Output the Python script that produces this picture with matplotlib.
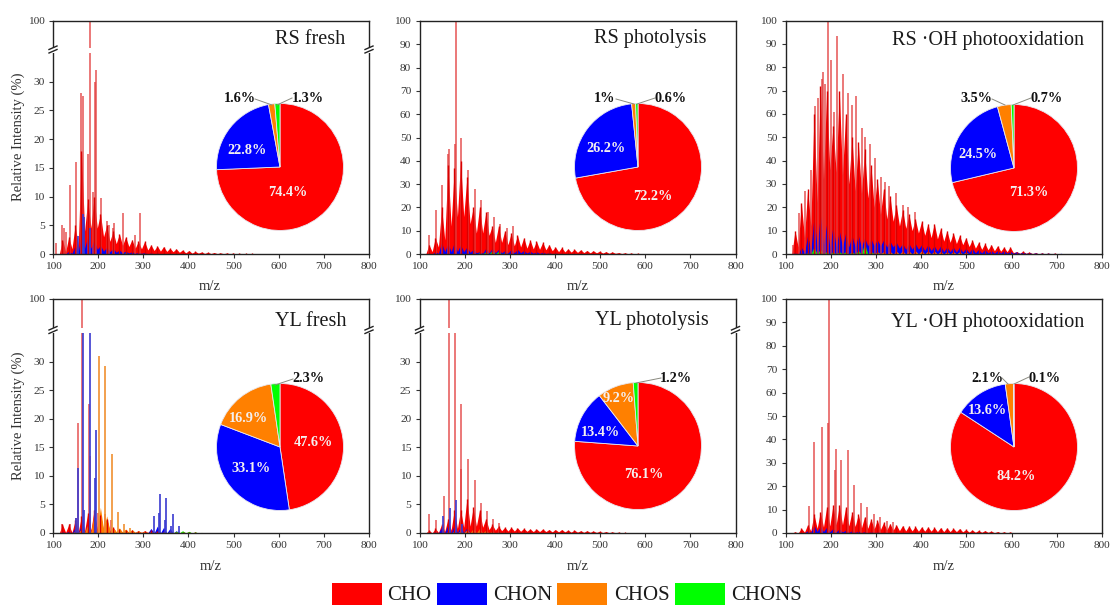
"""Mass spectra with class pies, six panels."""
import matplotlib
matplotlib.use("Agg")
import matplotlib.pyplot as plt
from matplotlib.patches import Rectangle

plt.rcParams["font.family"] = ["Liberation Serif", "DejaVu Serif"]

W, H = 1110, 605
RED, BLUE, ORANGE, GREEN = "#ff0000", "#0000ff", "#ff8000", "#00ff00"
TXT = "#333333"

CLASSES = ["CHO", "CHON", "CHOS", "CHONS"]

# centres of the CH2 series
PEAK_MZ = [121, 135, 149, 163, 177, 191, 205, 219, 233, 247, 261, 275, 289, 303, 317, 331, 345,
           359, 373, 387, 401, 415, 429, 443, 457, 471, 485, 499, 513, 527, 541, 555, 569, 583,
           597, 611, 625, 639, 653, 667, 681, 695, 709, 723, 737, 751, 765, 779, 793]

# ─── RS fresh ───
rf_cho_peak = [2.5, 3, 5, 18, 9.5, 10, 7, 5, 4, 3.5, 3, 2.5, 2.2, 2.2, 1.6, 1.4, 1.3, 1, .9, .7, .6, .45,
               .35, .3, .25, .2, .18, .15, .12, .1, .1, .08, .06, .05]
rf_cho_valley = [.4, .9, 1.5, 4, 4.5, 4.5, 3, 2.2, 1.8, 1.5, 1.3, 1, .9, .7, .6, .5, .45, .4, .3, .2, .15, .15,
                 .1, .08, .07, .05, .05, .04, .04, .03, .03, .02, .02, .01]
rf_chon_peak = [.2, .5, 1.5, 3.5, 3, 2.5, 1.5, 1.2, 1, .7, .5, .4, .3, .25, .2, .15, .1, .1, .08, .05]
rf_chon_valley = [0, .1, .4, 1, 1, .8, .5, .4, .3, .2, .15, .1, .1]
rf_chos_peak = [0, 0, 0, .1, .1, .2, .1, .1, .1, .1, .1, .1, .05, .05]
rf_chons_peak = [0, 0, 0, .1, .1, .1, .1, .1, .1, .1, .2, .1]
rf_cho_spike_mz = [107, 121, 125, 129, 137, 150, 163, 167, 177, 181, 188, 193, 196, 207, 220, 225, 232, 236, 255, 282, 292]
rf_cho_spike = [2, 5, 4.5, 3.8, 12, 16, 28, 27.5, 17.5, 100, 10.8, 30, 32, 9.8, 5.8, 5, 4.6, 5.4, 7.2, 3.3, 7.2]
rf_chon_spike_mz = [155, 167, 169, 181]
rf_chon_spike = [3.2, 7, 6.5, 4.5]
rf_shares = [74.4, 22.8, 1.6, 1.3]

# ─── RS photolysis ───
rp_cho_peak = [4, 7, 20, 38, 37, 40, 33, 20, 20, 18, 12, 12, 10, 9, 8, 7, 6, 5.5, 5, 4, 3, 2.8, 2.2, 2,
               1.8, 1.5, 1.4, 1.2, 1, .9, .6, .5, .4, .3, .2, .1]
rp_cho_valley = [1, 3, 6, 12, 16, 16, 13, 9, 9, 8, 5, 5, 4, 3.5, 3, 2.5, 2.2, 2, 1.8, 1.4, 1, .9, .8, .7,
                 .6, .5, .5, .4, .3, .3, .2, .15, .1, .08, .05, .02]
rp_chon_peak = [.3, 1, 5, 4.5, 5, 4, 3, 2, 1, 2.5, 2.5, 2, 1.5, 2, 2, 1.5, 1.2, 1, .8, .5, .4, .3, .2, .2, .1]
rp_chon_valley = [0, .2, 1, 1, 1, 1, .7, .5, .3, .5, .5, .5, .4, .5, .5, .4, .3, .2, .2, .1, .1]
rp_chos_peak = [0, 0, .1, .2, .2, .2, .2, .2, .3, .3, .3, .2, .2, .1, .1]
rp_chons_peak = [0, 0, 0, .2, .2, .2, .2, .2, .5, 1, 1.5, 1.2, .5, .2]
rp_cho_spike_mz = [121, 136, 150, 163, 165, 179, 181, 193, 207, 223, 236, 251, 264, 279, 293, 308]
rp_cho_spike = [8, 19, 29.5, 43, 45, 47, 100, 50, 36, 28, 23, 18, 16, 13, 11, 12]
rp_shares = [72.2, 26.2, 1.0, 0.6]

# ─── RS OH ───
ro_cho_peak = [10, 22, 28, 60, 72, 70, 55, 70, 60, 50, 48, 45, 38, 32, 28, 25, 21, 19, 17, 15, 14, 13,
               13, 11, 10, 9, 8, 7, 6, 5, 4.5, 4, 3.5, 3, 3, 1, 1.2, .8, .5, .4, .3, .3, .2, .2, .2, .1]
ro_cho_valley = [3, 7, 12, 22, 32, 36, 35, 34, 30, 27, 26, 24, 20, 17, 15, 14, 12, 11, 10, 9, 8, 7, 6.5,
                 5.5, 5, 4.5, 4, 3.2, 2.5, 2, 1.8, 1.4, 1.2, 1, .6, .3, .3, .2, .1, .1, .1, .05, .05, .05, .05, .05]
ro_chon_peak = [.5, 3, 8, 16, 17, 13, 12, 10, 9, 8, 8, 7, 6.5, 6, 6, 5.5, 5, 4.5, 4.5, 4.5, 4, 4, 3.5,
                3.5, 3, 3, 3, 2.5, 2.5, 2, 2, 1.5, 1.5, 1.5, 1.2, 1, .8, .6, .5, .4, .4, .3, .3, .2, .2, .2, .1, .1]
ro_chon_valley = [0, .5, 1.5, 3, 4, 3, 3, 3, 3, 3, 3, 3.5, 3.5, 3.5, 3, 3, 2.5, 2, 2, 2, 1.5, 1.5, 1.2,
                  1, 1, .8, .8, .6, .5, .4, .4, .3, .3, .3, .2, .2, .2, .1, .1, .1, .1, .05, .05]
ro_chos_peak = [0, 0, .1, .3, .5, .6, .6, .6, .7, .8, .9, 1, 1, 1, 1, 1.1, 1.2, 1.3, 1.3, 1.4, 1.4, 1.3, 1.2,
                1.1, 1, 1, .9, .8, .4, .2, .1]
ro_chons_peak = [0, 0, .5, 3, 2, 1, 1, 1, 1, .8, 1.5, 4.5, 1, .5, .4, .3, .2, .1]
ro_cho_spike_mz = [117, 130, 143, 156, 166, 172, 181, 184, 188, 195, 201, 208, 215, 228, 238, 247, 256, 269, 275, 286, 299, 311, 321, 328, 345, 359, 372, 386]
ro_cho_spike = [4, 17.5, 27, 36, 63.5, 67, 75, 78, 73, 100, 83, 61, 93.5, 77, 69, 64, 67.5, 54, 50, 47, 41, 33, 31, 29, 26, 21, 20, 18]
ro_shares = [71.3, 24.5, 3.5, 0.7]

# ─── YL fresh ───
yf_cho_peak = [1.5, 1.5, 2.2, 3, 3.5, 4, 3.2, 2.5, 1, .7, .6, .5, .4, .4, .5, .3, .3, .3, .2, .2, .15, .1, .08, .06, .05, .04, .03]
yf_cho_valley = [.1, .1, .2, .4, .5, .6, .5, .3, .2, .1, .1, .1, .1, .1, .1, .05, .05, .05, .03, .03, .02, .02]
yf_chon_peak = [.2, .3, 1, 1.5, 1.5, 2, 1, .5, .3, .2, .1, .1, .1, .1, .8, 1.2, 1, .8, .4, .2, .1, .05]
yf_chos_peak = [0, .1, .3, .8, 1.5, 3.5, 4.5, 3, 1, .9, .7, .6, .4, .3, .2, .2, .15, .15, .2, .3, .2, .15, .1, .08, .05]
yf_chos_valley = [0, 0, 0, .1, .2, .5, .6, .4, .2, .15, .1, .1, .08, .05, .05, .05, .03, .03, .03, .05]
yf_chons_peak = [0, 0, 0, .1, .1, .1, .1, .1, .1, .1, .1, .1, .1, .1, .1, .1, .1, .2, .3, .4, .3, .2, .1]
yf_cho_spike_mz = [121, 137, 150, 155, 165, 179, 181, 193, 200, 215, 229]
yf_cho_spike = [1.5, 1.5, 2.7, 19.3, 100, 22.6, 13.5, 4, 3.5, 3.3, 2.3]
yf_chon_spike_mz = [150, 155, 167, 169, 182, 193, 196, 323, 334, 337, 348, 351, 362, 366, 379]
yf_chon_spike = [2.7, 11.3, 35, 4, 35, 9.6, 18, 2.9, 3.5, 6.9, 2.2, 6.2, 1.2, 3.4, 1.3]
yf_chos_spike_mz = [203, 216, 231, 244, 258, 271]
yf_chos_spike = [31, 29.3, 13.8, 3.6, 1.6, .8]
yf_shares = [47.6, 33.1, 16.9, 2.3]

# ─── YL photolysis ───
yp_cho_peak = [.5, .8, 1.5, 2.5, 4, 4, 6, 4.5, 4, 2.5, 1.5, 1.2, 1, 1, .9, .8, .7, .7, .7, .6, .6, .6, .5, .5,
               .4, .4, .35, .3, .25, .2, .15, .1, .08, .05, .04, .03]
yp_cho_valley = [0, .1, .3, .5, .8, 1, 1.2, 1.2, 1, .6, .5, .4, .35, .35, .3, .3, .25, .25, .25, .2, .2, .2, .15, .15,
                 .12, .12, .1, .08, .06, .05, .03, .02]
yp_chon_peak = [0, .2, 1, 1.5, 1.5, 1.2, 1, .5, .4, .3, .2, .15, .1, .1]
yp_chos_peak = [0, 0, .1, .2, .3, .4, .6, .8, .8, .5, .3, .2, .15, .1, .1, .05]
yp_chons_peak = [0, 0, 0, .05, .1, .1, .1, .1, .1, .1]
yp_cho_spike_mz = [121, 136, 155, 165, 179, 192, 193, 207, 222, 237, 249, 262, 277]
yp_cho_spike = [3.4, 2.3, 6.4, 100, 35, 11.2, 22.6, 13, 9.2, 5.3, 3.9, 2.5, 1.8]
yp_chon_spike_mz = [151, 167, 181, 195]
yp_chon_spike = [3, 4.4, 5.8, 1.5]
yp_shares = [76.1, 13.4, 9.2, 1.2]

# ─── YL OH ───
yo_cho_peak = [.5, 2, 3.5, 8, 9, 11, 12, 12, 11, 9, 8, 7, 6, 5.5, 4.5, 4, 3.5, 3.2, 3, 2.8, 2.6, 2.6, 2.4,
               2.3, 2.2, 2, 1.9, 1.5, 1.3, 1.1, 1, .8, .6, .5, .4, .2, .15, .1, .05]
yo_cho_valley = [0, .4, .9, 2, 2.5, 3, 3.5, 3.5, 3, 2.8, 2.2, 2, 1.7, 1.5, 1.3, 1.2, 1, .9, .9, .8, .8, .8, .6,
                 .6, .6, .6, .5, .4, .3, .3, .3, .15, .1, .1, .1, .05, .02, .02]
yo_chon_peak = [0, .2, 1, 3.5, 3, 2.5, 2, 1.8, 1.2, 1, .8, .6, .5, .4, .3, .3, .2, .2, .2, .15, .1, .1, .1, .1, .1, .05]
yo_chon_valley = [0, 0, .2, .6, .6, .5, .4, .4, .2, .2, .1, .1, .1, .1]
yo_chos_peak = [0, 0, 0, .1, .1, .2, .2, .2, .1, .1, .1, .1, .1]
yo_chons_peak = [0, 0, 0, .02, .02, .02, .02]
yo_cho_spike_mz = [153, 164, 180, 195, 196, 209, 211, 223, 238, 252, 266, 280, 295, 309, 324, 338]
yo_cho_spike = [11.5, 39, 45.5, 47, 100, 27, 35.7, 31, 35.5, 20.5, 13, 11, 8, 7, 5.3, 4.5]
yo_shares = [84.2, 13.6, 2.1, 0.1]

X_TICKS = [100, 200, 300, 400, 500, 600, 700, 800]
Y_TICKS_FULL = [0, 10, 20, 30, 40, 50, 60, 70, 80, 90, 100]
Y_TICKS_LOW = [0, 5, 10, 15, 20, 25, 30]

fig = plt.figure(figsize=(W / 100, H / 100), dpi=100, facecolor="white")


def px_axes(x0, x1, ytop, ybot, zorder=1):
    return fig.add_axes([x0 / W, 1 - ybot / H, (x1 - x0) / W, (ybot - ytop) / H], zorder=zorder)


def draw_comb(ax, peaks, valleys, color):
    xs, ys = [PEAK_MZ[0] - 7], [0]
    for i, p in enumerate(peaks):
        v = valleys[i] if i < len(valleys) else 0
        xs += [PEAK_MZ[i], PEAK_MZ[i] + 7]
        ys += [p, v]
    ax.fill_between(xs, ys, 0, color=color, lw=0)


def draw_spectrum(ax, d):
    # red underneath, minor classes on top
    draw_comb(ax, d["cho"], d["cho_v"], RED)
    ax.vlines(d["cho_sx"], 0, d["cho_sy"], color="#e23c3c", lw=1.3, alpha=0.75)
    ax.vlines(PEAK_MZ[:len(d["cho"])], 0, d["cho"], color="#d80000", lw=1.0)
    if d.get("chos_sx"):
        ax.vlines(d["chos_sx"], 0, d["chos_sy"], color="#f09030", lw=1.2)
    if d.get("chon_sx"):
        ax.vlines(d["chon_sx"], 0, d["chon_sy"], color="#3a3ad0", lw=1.2)
    draw_comb(ax, d["chon"], d["chon_v"], BLUE)
    draw_comb(ax, d["chos"], d.get("chos_v", []), ORANGE)
    draw_comb(ax, d["chons"], [], GREEN)


def style(ax, yticks, ylim, xlabels=True):
    ax.set_xlim(100, 800)
    ax.set_ylim(*ylim)
    ax.set_yticks(yticks)
    ax.tick_params(axis="both", direction="out", length=3, width=0.8, pad=3,
                   labelsize=8.2, colors=TXT)
    for s in ax.spines.values():
        s.set_color("#222222")
        s.set_linewidth(1.0)
    ax.set_xticks(X_TICKS if xlabels else [])


def full_panel(x0, x1, ytop, ybot, d):
    ax = px_axes(x0, x1, ytop, ybot)
    draw_spectrum(ax, d)
    style(ax, Y_TICKS_FULL, (0, 100))


def broken_panel(x0, x1, ytop, ybot, gap_top, gap_bot, d):
    ax_hi = px_axes(x0, x1, ytop, gap_top)
    ax_lo = px_axes(x0, x1, gap_bot, ybot)
    draw_spectrum(ax_hi, d)
    draw_spectrum(ax_lo, d)
    style(ax_hi, [100], (92, 100), xlabels=False)
    style(ax_lo, Y_TICKS_LOW, (0, 35))
    ax_hi.spines["bottom"].set_visible(False)
    ax_lo.spines["top"].set_visible(False)


def pie(cx, cy, shares):
    r = 63.5
    ax = px_axes(cx - r, cx + r, cy - r, cy + r, zorder=3)
    ax.pie(shares, colors=[RED, BLUE, ORANGE, GREEN], startangle=90, counterclock=False, radius=1,
           wedgeprops=dict(edgecolor="#e8e8f0", linewidth=0.6))
    ax.set_xlim(-1, 1)
    ax.set_ylim(-1, 1)


rf = dict(cho=rf_cho_peak, cho_v=rf_cho_valley, chon=rf_chon_peak, chon_v=rf_chon_valley, chos=rf_chos_peak, chons=rf_chons_peak,
          cho_sx=rf_cho_spike_mz, cho_sy=rf_cho_spike, chon_sx=rf_chon_spike_mz, chon_sy=rf_chon_spike)
rp = dict(cho=rp_cho_peak, cho_v=rp_cho_valley, chon=rp_chon_peak, chon_v=rp_chon_valley, chos=rp_chos_peak, chons=rp_chons_peak,
          cho_sx=rp_cho_spike_mz, cho_sy=rp_cho_spike)
ro = dict(cho=ro_cho_peak, cho_v=ro_cho_valley, chon=ro_chon_peak, chon_v=ro_chon_valley, chos=ro_chos_peak, chons=ro_chons_peak,
          cho_sx=ro_cho_spike_mz, cho_sy=ro_cho_spike)
yf = dict(cho=yf_cho_peak, cho_v=yf_cho_valley, chon=yf_chon_peak, chon_v=[], chos=yf_chos_peak, chos_v=yf_chos_valley,
          chons=yf_chons_peak, cho_sx=yf_cho_spike_mz, cho_sy=yf_cho_spike, chon_sx=yf_chon_spike_mz, chon_sy=yf_chon_spike,
          chos_sx=yf_chos_spike_mz, chos_sy=yf_chos_spike)
yp = dict(cho=yp_cho_peak, cho_v=yp_cho_valley, chon=yp_chon_peak, chon_v=[], chos=yp_chos_peak, chons=yp_chons_peak,
          cho_sx=yp_cho_spike_mz, cho_sy=yp_cho_spike, chon_sx=yp_chon_spike_mz, chon_sy=yp_chon_spike)
yo = dict(cho=yo_cho_peak, cho_v=yo_cho_valley, chon=yo_chon_peak, chon_v=yo_chon_valley, chos=yo_chos_peak, chons=yo_chons_peak,
          cho_sx=yo_cho_spike_mz, cho_sy=yo_cho_spike)

broken_panel(53, 369, 20.5, 254, 47.5, 53, rf)
full_panel(419.5, 735.5, 21, 254, rp)
full_panel(785.5, 1102, 20.5, 254, ro)
broken_panel(53, 369, 299, 533, 328, 333, yf)
broken_panel(419.5, 735.5, 299, 533, 328, 333, yp)
full_panel(785.5, 1102, 299, 533, yo)

pie(280, 167, rf_shares)
pie(638, 167, rp_shares)
pie(1014, 168, ro_shares)
pie(280, 447, yf_shares)
pie(638, 446, yp_shares)
pie(1014, 447, yo_shares)

# overlay in pixel coordinates for labels, leaders and the legend
ov = fig.add_axes([0, 0, 1, 1], zorder=5)
ov.set_xlim(0, W)
ov.set_ylim(H, 0)
ov.axis("off")
ov.patch.set_alpha(0)

for x, y, s in [(310, 40, "RS fresh"), (650, 39, "RS photolysis"), (988, 40, "RS ·OH photooxidation"),
                (311, 322, "YL fresh"), (652, 321, "YL photolysis"), (988, 322, "YL ·OH photooxidation")]:
    ov.text(x, y, s, fontsize=14.5, ha="center", va="center", color="#1a1a1a")

for x, y in [(210, 287), (578, 287), (944, 287), (211, 566), (578, 566), (944, 566)]:
    ov.text(x, y, "m/z", fontsize=10.5, ha="center", va="center", color=TXT)
for y in (137, 416):
    ov.text(18, y, "Relative Intensity (%)", fontsize=10.5, rotation=90, ha="center", va="center", color=TXT)

# break marks on both sides of the axes
for x, y in [(53, 50), (369, 50), (53, 330.5), (369, 330.5), (419.5, 330.5), (735.5, 330.5)]:
    ov.add_patch(Rectangle((x - 3, y - 2.5), 6, 5, color="white", lw=0, zorder=1))
    ov.plot([x - 4, x + 4], [y - 0.5, y - 4], color="#222222", lw=1, zorder=2)
    ov.plot([x - 4, x + 4], [y + 3, y - 0.5], color="#222222", lw=1, zorder=2)

for x, y, s in [(247, 151, "22.8%"), (288, 193, "74.4%"), (606, 148, "26.2%"), (653, 197, "72.2%"),
                (978, 154, "24.5%"), (1029, 192, "71.3%"), (313, 442, "47.6%"), (251, 469, "33.1%"),
                (248, 418, "16.9%"), (644, 474, "76.1%"), (600, 432, "13.4%"), (619, 399, "9.2%"),
                (1016, 477, "84.2%"), (987, 411, "13.6%")]:
    ov.text(x, y, s, fontsize=10.3, fontweight="bold", ha="center", va="center", color="#f4f0f0")

for x, y, s in [(240, 99, "1.6%"), (308, 98, "1.3%"), (605, 98, "1%"), (671, 98, "0.6%"),
                (976, 99, "3.5%"), (1047, 98, "0.7%"), (308, 378, "2.3%"), (676, 378, "1.2%"),
                (987, 378, "2.1%"), (1045, 378, "0.1%")]:
    ov.text(x, y, s, fontsize=10.3, fontweight="bold", ha="center", va="center", color="#111111")

for a, b in [((255, 99), (272, 105)), ((292, 98), (277, 105)),
             ((616, 99), (634, 104)), ((655, 98), (637, 104)),
             ((992, 99), (1005, 105)), ((1031, 98), (1013, 105)),
             ((293, 379), (275, 385)), ((661, 378), (636, 383)),
             ((1002, 378), (1008, 384)), ((1029, 377), (1014, 384))]:
    ov.plot([a[0], b[0]], [a[1], b[1]], color="#8a8a80", lw=0.7)

for x, name, tx, c in [(332, CLASSES[0], 387, RED), (437, CLASSES[1], 493, BLUE),
                       (557, CLASSES[2], 614, ORANGE), (675, CLASSES[3], 731, GREEN)]:
    ov.add_patch(Rectangle((x, 583), 49.5, 22, color=c, lw=0))
    ov.text(tx, 596, name, fontsize=15, ha="left", va="center", color="#1a1a1a")

fig.savefig("out.png", dpi=100)
